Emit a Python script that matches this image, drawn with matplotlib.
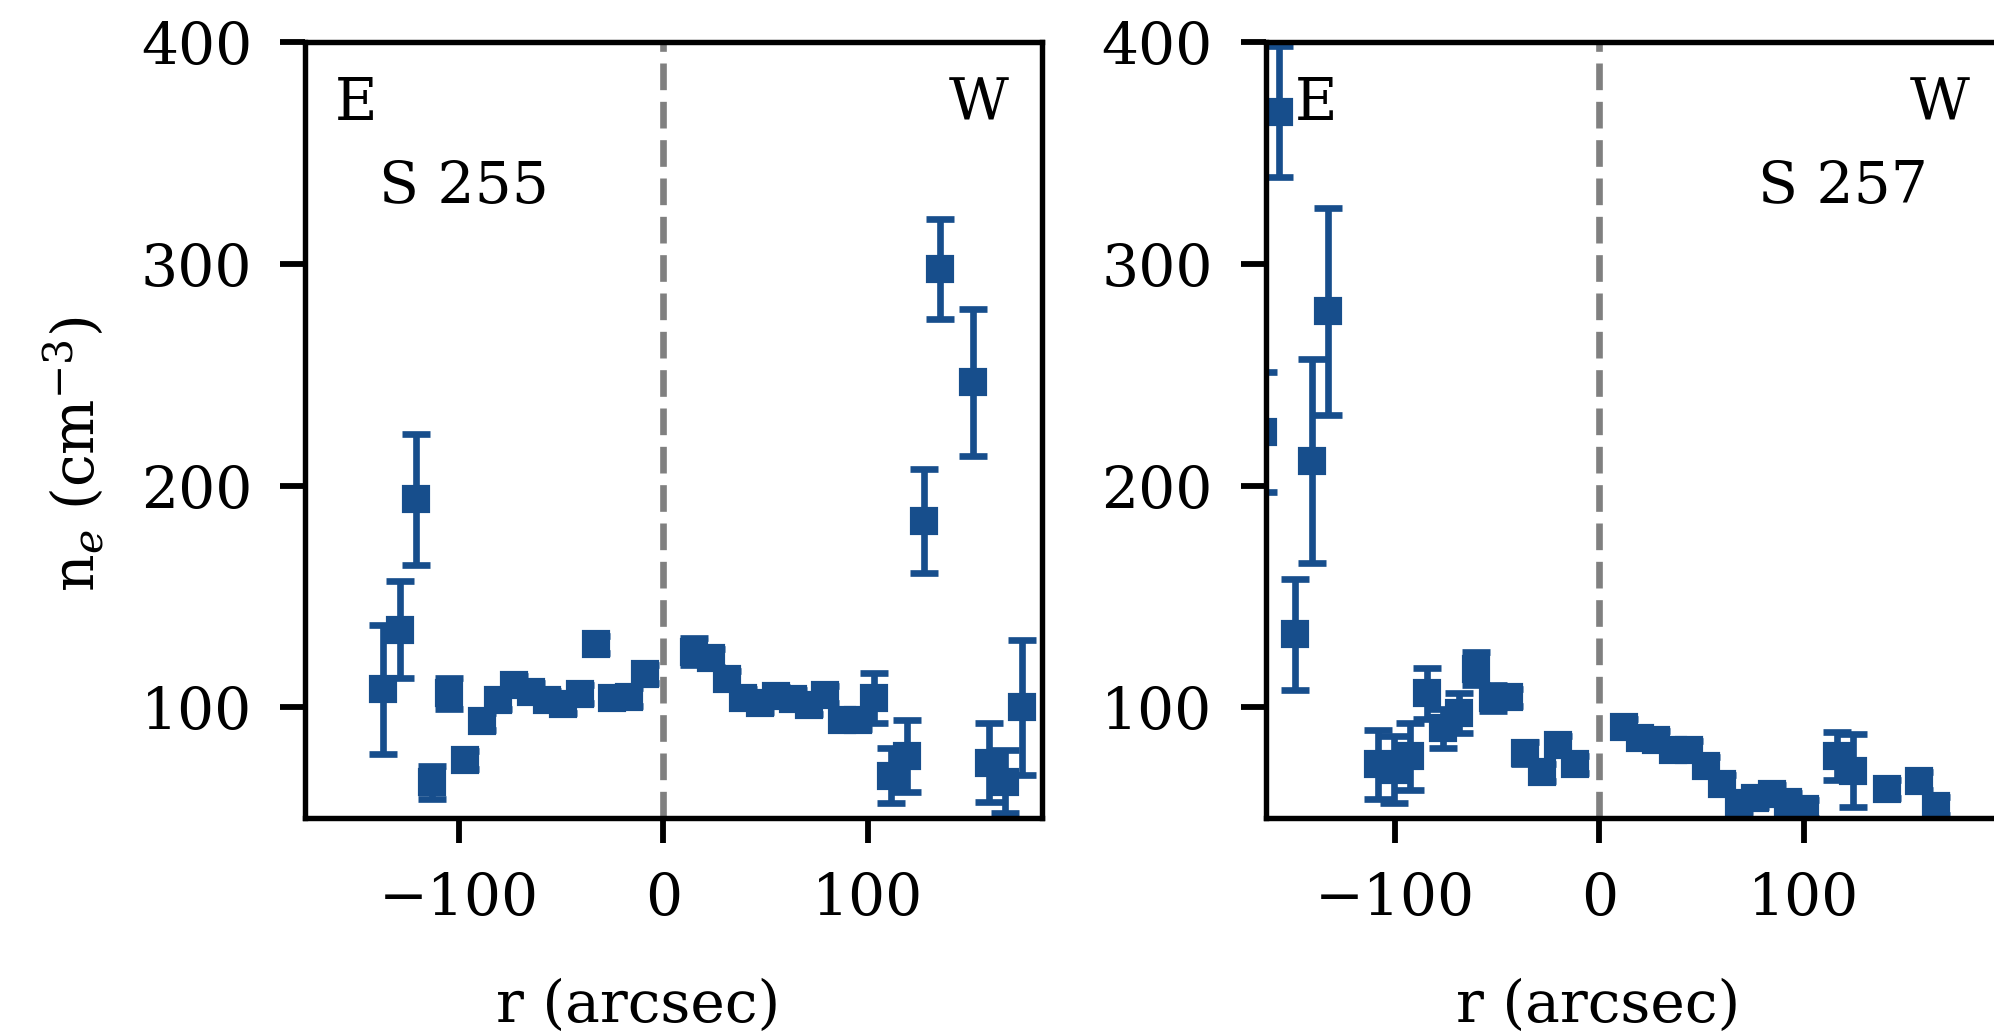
import matplotlib
matplotlib.use('Agg')
from matplotlib import pyplot as plt

# S 255 profile (r in arcsec, n_e in cm^-3)
r_s255 = [-136.8, -128.8, -120.8, -112.8, -104.8, -96.8, -88.8, -80.8, -72.8,
          -64.8, -56.8, -48.8, -40.8, -32.8, -24.8, -16.8, -8.8,
          15.2, 23.2, 31.2, 39.2, 47.2, 55.2, 63.2, 71.2, 79.2, 87.2, 95.2,
          103.2, 111.2, 119.2, 127.2, 135.2, 151.2, 159.2, 167.2, 175.2]
ne_s255 = [108.1, 135.1, 193.8, 66.2, 106.3, 76.4, 93.7, 103.3, 110.2,
           107.0, 103.5, 101.4, 106.2, 128.4, 104.1, 104.8, 115.0,
           125.2, 122.2, 112.6, 104.3, 102.1, 105.0, 103.7, 101.0, 105.8, 94.3, 94.4,
           104.3, 69.2, 78.2, 184.1, 297.6, 246.5, 75.0, 66.6, 100.0]
err_s255 = [28.9, 21.9, 29.5, 7.4, 7.0, 4, 4, 4, 4,
            4, 4, 4, 4, 4, 4, 4, 4,
            6, 4, 4, 4, 4, 4, 4, 4, 4, 4, 4,
            11.3, 12.5, 16.1, 23.4, 22.4, 33.3, 17.8, 14.0, 30.4]

# S 257 profile
r_s257 = [-164.5, -156.4, -148.5, -140.4, -132.3, -108.1, -100.4, -92.3, -84.3,
          -76.1, -68.3, -60.1, -52.1, -44.2, -36.1, -28.0, -20.0, -12.0,
          12.0, 19.9, 28.0, 36.1, 44.0, 52.1, 60.1, 68.2, 76.2, 84.2, 92.4,
          100.4, 116.2, 124.2, 140.4, 156.4, 164.5]
ne_s257 = [224.0, 368.5, 132.9, 211.2, 278.5, 74.4, 72.0, 78.0, 106.3,
           90.6, 97.5, 117.5, 104.2, 104.5, 79.3, 70.7, 83.1, 74.3,
           91.0, 86.0, 85.2, 80.7, 80.7, 73.7, 65.5, 56.8, 59.0, 61.0, 57.5,
           54.2, 78.2, 71.5, 63.2, 67.0, 55.6]
err_s257 = [27.0, 29.5, 24.9, 46.0, 46.6, 15.5, 15.0, 15.2, 11.3,
            8.8, 9.1, 7.6, 6.0, 4, 5, 4, 4, 4,
            4, 4, 4, 4, 4, 4, 4, 4, 4, 4, 4,
            4, 10.7, 16.5, 4, 4, 4]

panels = [
    (r_s255, ne_s255, err_s255, 'S 255', 0.216, (-175, 185)),
    (r_s257, ne_s257, err_s257, 'S 257', 0.784, (-163, 197)),
]

plt.rcParams['font.family'] = 'DejaVu Serif'
plt.rcParams['mathtext.fontset'] = 'dejavuserif'
plt.rcParams['font.size'] = 14
plt.rcParams['axes.linewidth'] = 1.3
for ax_name in ['xtick', 'ytick']:
    plt.rcParams[ax_name + '.major.size'] = 6
    plt.rcParams[ax_name + '.major.width'] = 1.4
    plt.rcParams[ax_name + '.major.pad'] = 6.7
    plt.rcParams[ax_name + '.labelsize'] = 14

color = '#174e8c'

fig = plt.figure(figsize=(1994 / 300, 1033 / 300), dpi=300)
positions = [[0.1530, 0.2078, 0.3695, 0.7516],
             [0.6347, 0.2078, 0.3695, 0.7516]]

for i, (r, ne, err, name, name_x, xlim) in enumerate(panels):
    ax = fig.add_axes(positions[i])
    ax.axvline(0, color='gray', lw=1.6, dashes=(4.0, 1.75), zorder=1)
    ax.errorbar(r, ne, yerr=err, fmt='s', color=color, ms=5.9,
                mec=color, mfc=color, elinewidth=1.6, capsize=3.4,
                capthick=1.6, zorder=2)
    ax.set_xlim(*xlim)
    ax.set_ylim(50, 400)
    ax.set_xticks([-100, 0, 100])
    ax.set_yticks([100, 200, 300, 400])
    ax.text(0.04, 0.9, 'E', transform=ax.transAxes, ha='left', va='baseline')
    ax.text(0.955, 0.9, 'W', transform=ax.transAxes, ha='right', va='baseline')
    ax.text(name_x, 0.793, name, transform=ax.transAxes, ha='center', va='baseline')
    ax.set_xlabel('r (arcsec)')
    ax.xaxis.set_label_coords(0.452, -0.205)
    if i == 0:
        ax.set_ylabel(r'n$_e$ (cm$^{-3}$)')
        ax.yaxis.set_label_coords(-0.27, 0.469)

fig.savefig('out.png', dpi=300)
